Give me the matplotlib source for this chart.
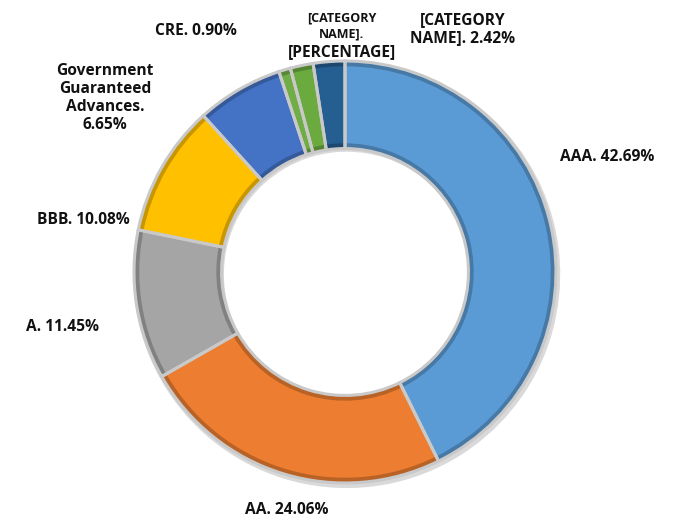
import matplotlib.pyplot as plt
import matplotlib.colors as mcolors

labels = ["AAA", "AA", "A", "BBB", "Government\nGuaranteed\nAdvances", "CRE",
          "[CATEGORY\nNAME]", "[CATEGORY\nNAME]"]
values = [42.69, 24.06, 11.45, 10.08, 6.65, 0.90, 1.75, 2.42]
pct_text = ["42.69%", "24.06%", "11.45%", "10.08%", "6.65%", "0.90%",
            "[PERCENTAGE]", "2.42%"]
colors = ["#5B9BD5", "#ED7D31", "#A5A5A5", "#FFC000", "#4472C4", "#70AD47",
          "#6AAA3F", "#255E91"]

plt.rcParams['font.family'] = ['Open Sans', 'DejaVu Sans']

W, H = 677, 519
cx, cy, R = 345, 272, 211
fig = plt.figure(figsize=(W / 100, H / 100), dpi=100)
ax = fig.add_axes([0, 0, 1, 1])


def shade(c, f):
    r, g, b = mcolors.to_rgb(c)
    return (r * f, g * f, b * f)


def px(x, y):
    return (x - cx) / R, (cy - y) / R


# soft shadow ring
ax.pie(values, radius=1.012, startangle=90, counterclock=False,
       colors=["#d9d9d9"] * len(values), center=(0.008, -0.012),
       wedgeprops=dict(width=0.43, linewidth=0))
# bevel rim (darker)
ax.pie(values, radius=1.0, startangle=90, counterclock=False,
       colors=[shade(c, 0.78) for c in colors],
       wedgeprops=dict(width=0.415, linewidth=0))
# main face
ax.pie(values, radius=0.975, startangle=90, counterclock=False,
       colors=colors, wedgeprops=dict(width=0.365, linewidth=0))
# silver separators and outline
ax.pie(values, radius=1.0, startangle=90, counterclock=False,
       colors=["none"] * len(values),
       wedgeprops=dict(width=0.415, linewidth=2.2, edgecolor="#c9c9c9"))

# pie() resets the limits, so set them afterwards
ax.set_aspect('auto')
ax.set_xlim(-cx / R, (W - cx) / R)
ax.set_ylim(-(H - cy) / R, cy / R)
ax.axis('off')

fs = 11.2
bold = dict(fontweight='bold', ha='center', va='center', color='#111111')
ax.text(*px(607, 157), "AAA. 42.69%", fontsize=fs, **bold)
ax.text(*px(287, 510), "AA. 24.06%", fontsize=fs, **bold)
ax.text(*px(63, 327), "A. 11.45%", fontsize=fs, **bold)
ax.text(*px(83, 220), "BBB. 10.08%", fontsize=fs, **bold)
ax.text(*px(105, 98), labels[4] + ".\n" + pct_text[4], fontsize=fs,
        linespacing=1.15, **bold)
ax.text(*px(196, 31), "CRE. 0.90%", fontsize=fs, **bold)
ax.text(*px(342, 26), labels[6] + ".", fontsize=9, linespacing=1.25, **bold)
ax.text(*px(342, 52), pct_text[6], fontsize=fs, **bold)
ax.text(*px(463, 29), labels[7] + ". " + pct_text[7], fontsize=fs,
        linespacing=1.1, **bold)

fig.savefig("out.png", dpi=100)
